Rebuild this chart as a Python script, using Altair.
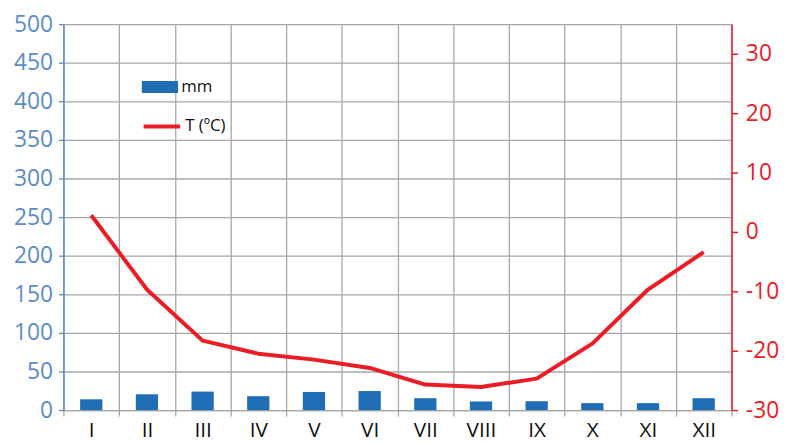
import altair as alt
import pandas as pd

months = ["I", "II", "III", "IV", "V", "VI", "VII", "VIII", "IX", "X", "XI", "XII"]
precip_mm = [14, 20.5, 24, 18, 23.5, 24.7, 15.4, 11.2, 11.5, 9, 9, 15.4]
temp_c = [2.8, -9.7, -18.3, -20.5, -21.5, -22.9, -25.7, -26.1, -24.7, -18.8, -9.7, -3.4]

left_ticks = list(range(0, 501, 50))
right_ticks = list(range(-30, 31, 10))

df = pd.DataFrame({
    "month": months,
    "mm": precip_mm,
    "T": temp_c,
    "s_bar": ["mm"] * 12,
    "s_line": ["T (ºC)"] * 12,
})

BLUE = "#1F6DB5"
AXBLUE = "#5B8BC9"
RED = "#EC1C24"
GRID = "#A6A6A6"
FONT = "Open Sans"

xenc = alt.X(
    "month:N", sort=months, title=None,
    scale=alt.Scale(paddingInner=0, paddingOuter=0),
    axis=alt.Axis(grid=True, tickBand="extent", gridColor=GRID, gridWidth=1.3,
                  domainColor=GRID, domainWidth=1.3, tickColor=GRID, tickWidth=1.3,
                  tickSize=6, labelFontSize=21, labelColor="#111111", labelAngle=0,
                  labelPadding=4, labelFont=FONT),
)

bars = alt.Chart(df).mark_bar(width=alt.RelativeBandSize(0.4)).encode(
    x=xenc,
    y=alt.Y("mm:Q", title=None,
            scale=alt.Scale(domain=[0, 500], nice=False),
            axis=alt.Axis(orient="left", values=left_ticks, grid=True, gridColor=GRID,
                          gridWidth=1.3, domainColor=AXBLUE, domainWidth=1.5,
                          tickColor=AXBLUE, tickWidth=1.3, tickSize=5,
                          labelColor=AXBLUE, labelFontSize=23, labelPadding=6,
                          labelFont=FONT)),
    fill=alt.Fill("s_bar:N", title=None,
                  scale=alt.Scale(domain=["mm"], range=[BLUE]),
                  legend=alt.Legend(orient="none", legendX=79, legendY=45,
                                    symbolType="M-1,-0.33H1V0.33H-1Z", symbolSize=1340,
                                    symbolStrokeWidth=0, labelFontSize=17,
                                    labelFont=FONT, labelColor="#111111",
                                    labelOffset=3, padding=0)),
)

line = alt.Chart(df).mark_line(strokeWidth=4, strokeJoin="round").encode(
    x=alt.X("month:N", sort=months),
    y=alt.Y("T:Q", title=None,
            scale=alt.Scale(domain=[-30, 35], nice=False),
            axis=alt.Axis(orient="right", values=right_ticks, grid=False,
                          domainColor=RED, domainWidth=1.5, tickColor=RED,
                          tickWidth=1.5, tickSize=6, labelColor=RED,
                          labelFontSize=23, labelPadding=8, labelFont=FONT,
                          labelExpr="'' + datum.value")),
    stroke=alt.Stroke("s_line:N", title=None,
                      scale=alt.Scale(domain=["T (ºC)"], range=[RED]),
                      legend=alt.Legend(orient="none", legendX=79, legendY=83,
                                        symbolType="M-1,0H1", symbolSize=1369,
                                        symbolStrokeWidth=4, labelFontSize=17,
                                        labelFont=FONT, labelColor="#111111",
                                        labelOffset=3, padding=0)),
)

chart = alt.layer(bars, line).resolve_scale(y="independent").properties(
    width=675, height=390,
    autosize=alt.AutoSizeParams(type="none"),
    padding={"left": 56, "top": 14, "right": 51, "bottom": 32},
).configure_view(strokeWidth=0)

chart.save("out.html", embed_options={"renderer": "svg", "actions": False})
